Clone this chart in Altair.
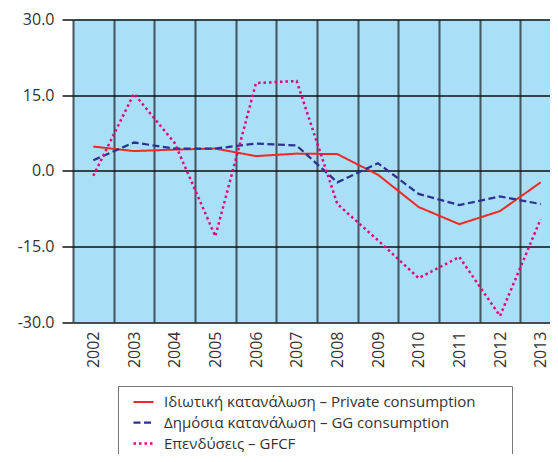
import altair as alt
import pandas as pd

years = [str(y) for y in range(2002, 2014)]
series_names = [
    "Ιδιωτική κατανάλωση – Private consumption",
    "Δημόσια κατανάλωση – GG consumption",
    "Επενδύσεις – GFCF",
]
private = [4.8, 3.9, 4.2, 4.4, 2.9, 3.4, 3.3, -0.8, -7.2, -10.6, -8.0, -2.3]
gg = [2.1, 5.6, 4.4, 4.4, 5.4, 5.0, -2.3, 1.5, -4.6, -6.8, -5.1, -6.6]
gfcf = [-1.0, 15.3, 5.5, -13.0, 17.4, 17.8, -6.6, -13.8, -21.3, -17.1, -28.8, -9.6]
y_ticks = [-30, -15, 0, 15, 30]

colors = ["#ee2a24", "#2e3192", "#e6007e"]
dashes = [[1, 0], [7, 3.5], [2.5, 3]]
widths = [2, 2.5, 3]

rows = []
for name, vals in zip(series_names, [private, gg, gfcf]):
    for yr, v in zip(years, vals):
        rows.append({"year": yr, "value": v, "series": name})
df = pd.DataFrame(rows)

FONT = "Open Sans"

legend = alt.Legend(
    title="\u00a0",
    titleOrient="right",
    titleFontSize=4,
    titlePadding=31,
    orient="none",
    legendX=45,
    legendY=366.5,
    direction="vertical",
    symbolType="stroke",
    symbolSize=400,
    symbolStrokeWidth=2,
    symbolOffset=9,
    labelFont=FONT,
    labelFontSize=15,
    labelColor="#333333",
    labelOffset=9,
    labelLimit=500,
    rowPadding=1,
    padding=5,
    strokeColor="#777777",
    fillColor="white",
)

chart = alt.Chart(df).mark_line().encode(
    x=alt.X(
        "year:O",
        scale=alt.Scale(type="band", domain=years, range=[0, 488], paddingInner=0, paddingOuter=0),
        axis=alt.Axis(
            title=None,
            labelAngle=270,
            labelAlign="right",
            labelBaseline="middle",
            labelFont=FONT,
            labelFontSize=16,
            labelColor="#333333",
            labelPadding=9,
            ticks=False,
            domain=False,
            grid=True,
            tickBand="extent",
            gridColor="#44555c",
            gridWidth=2,
            gridOpacity=1,
        ),
    ),
    y=alt.Y(
        "value:Q",
        scale=alt.Scale(domain=[-30, 30], nice=False, zero=False),
        axis=alt.Axis(
            title=None,
            values=y_ticks,
            labelExpr="replace(format(datum.value, '.1f'), '\u2212', '-')",
            labelFont=FONT,
            labelFontSize=16,
            labelColor="#333333",
            labelPadding=8,
            tickSize=11,
            tickColor="#111111",
            tickWidth=1.5,
            domain=False,
            grid=True,
            gridColor="#111111",
            gridWidth=1.5,
            gridOpacity=1,
        ),
    ),
    color=alt.Color("series:N", scale=alt.Scale(domain=series_names, range=colors), legend=legend),
    strokeDash=alt.StrokeDash("series:N", scale=alt.Scale(domain=series_names, range=dashes), legend=legend),
    strokeWidth=alt.StrokeWidth("series:N", scale=alt.Scale(domain=series_names, range=widths), legend=None),
).properties(
    width=477,
    height=302.5,
    autosize=alt.AutoSizeParams(type="none"),
    padding={"left": 65, "top": 11.5, "right": 0, "bottom": 132},
).configure_view(
    fill="#a9dff7",
    stroke=None,
)

chart.save("out.html", embed_options={"renderer": "svg", "actions": False})
